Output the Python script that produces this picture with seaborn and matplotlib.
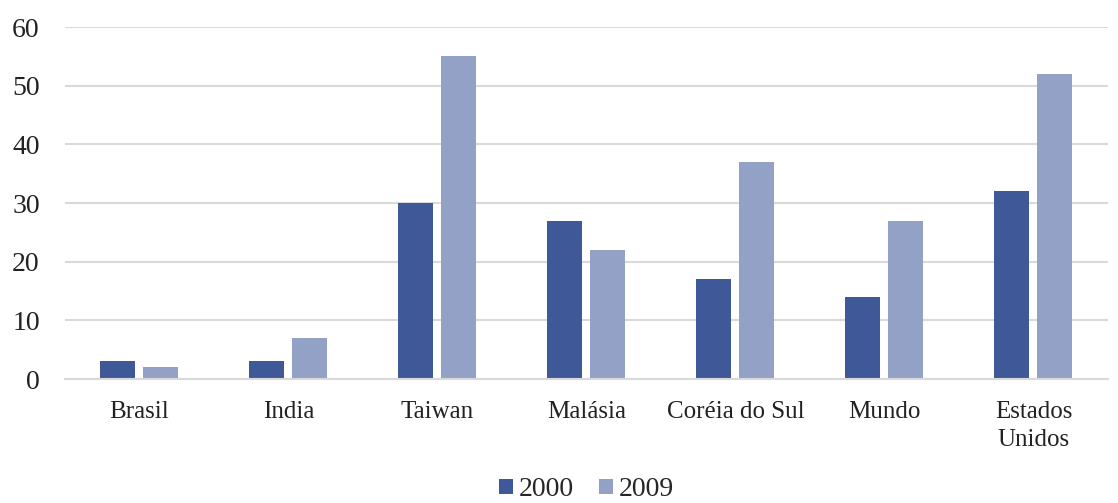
import pandas as pd
import seaborn as sns
import matplotlib.pyplot as plt

# dados do gráfico
paises = ['Brasil', 'India', 'Taiwan', 'Malásia', 'Coréia do Sul', 'Mundo', 'Estados\nUnidos']
valores_2000 = [3, 3, 30, 27, 17, 14, 32]
valores_2009 = [2, 7, 55, 22, 37, 27, 52]
anos = ['2000', '2009']
cores = ['#3F5897', '#94A1C6']

df = pd.DataFrame({
    'pais': paises * 2,
    'ano': [anos[0]] * len(paises) + [anos[1]] * len(paises),
    'valor': valores_2000 + valores_2009,
})

sns.set_style('white')
plt.rcParams['font.family'] = ['Liberation Serif', 'DejaVu Serif']

fig = plt.figure(figsize=(11.18, 5.03), dpi=100)
ax = fig.add_axes([0.058, 0.2465, 0.933, 0.6995])

sns.barplot(data=df, x='pais', y='valor', hue='ano', palette=cores,
            width=0.577, gap=0.185, ax=ax, saturation=1, linewidth=0)

ax.set_ylim(0, 60)
ax.set_xlim(-0.5, len(paises) - 0.5)
ax.set_yticks(range(0, 61, 10))
ax.yaxis.grid(True, color='#D9D9D9', linewidth=1.5)
ax.set_axisbelow(True)
for s in ['left', 'right', 'top']:
    ax.spines[s].set_visible(False)
ax.spines['bottom'].set_color('#D9D9D9')
ax.spines['bottom'].set_linewidth(1.5)
ax.tick_params(axis='y', labelsize=20, length=0, pad=18, colors='#222222')
ax.tick_params(axis='x', labelsize=18, length=0, pad=16, colors='#222222')
for lbl in ax.get_xticklabels():
    lbl.set_linespacing(1.35)
ax.set_xlabel('')
ax.set_ylabel('')

ax.legend(loc='lower center', bbox_to_anchor=(0.5, -0.39), ncol=2, frameon=False,
          fontsize=20, handlelength=0.5, handleheight=0.5, handletextpad=0.2,
          columnspacing=0.9, borderpad=0)

fig.savefig('out.png', dpi=100, facecolor='white')
